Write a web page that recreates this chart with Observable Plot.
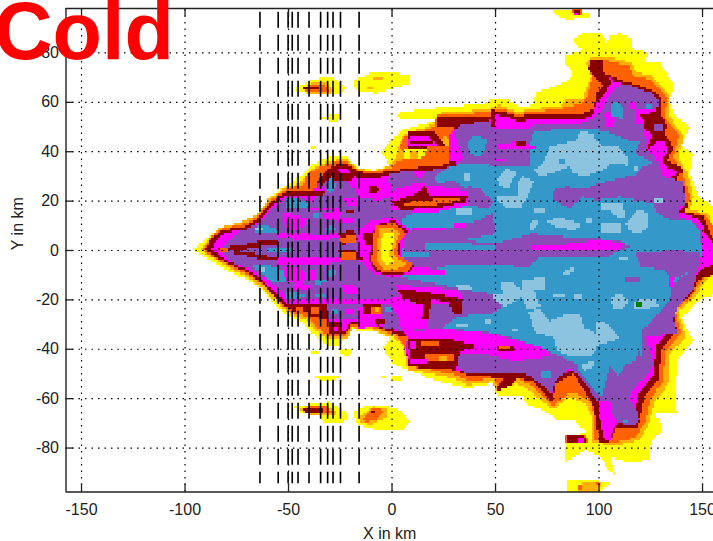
<!DOCTYPE html>
<html><head><meta charset="utf-8">
<style>html,body{margin:0;padding:0;background:#fff;overflow:hidden}svg{display:block}</style>
<script src="https://cdn.jsdelivr.net/npm/d3@7"></script>
<script src="https://cdn.jsdelivr.net/npm/@observablehq/plot@0.6"></script>
</head><body><div id="chart"></div><script>
const xTicks=[-150,-100,-50,0,50,100,150];
const yTicks=[-80,-60,-40,-20,0,20,40,60,80];
const dashedX=[-63.8,-55,-50.2,-48.2,-45.4,-40.1,-34.5,-31.1,-28.5,-24.9,-15.9];
const palette={yellow:"#ffff00",amber:"#ffb000",orange:"#ff6000",dark:"#8b0000",magenta:"#ff00ff",purple:"#8b4cb8",blue:"#3498c8",pale:"#8cc3df",green:"#008000"};

const yellowShapes=[
[[-96.5,0],[-89.3,4.7],[-84.4,8],[-73.2,10.5],[-63.5,14.8],[-58.7,21.6],[-50.6,26.3],[-44.2,29.7],[-39.3,34.4],[-30.5,37.8],[-21.6,37.8],[-15.2,33],[-8.9,32.4],[-0.9,34.4],[-4.9,39.8],[0,44.5],[5.5,48.6],[13.6,50.6],[20.9,52.6],[3.9,53.3],[2.3,55.3],[17.6,57.3],[32.9,58.3],[44.2,59.4],[49,61],[55.5,61.4],[61.9,57.7],[68.4,58.7],[70,64.1],[78,66.1],[86.1,68.8],[87.7,72.2],[83.7,76.2],[84.5,78.9],[92.5,81],[86.9,85],[92.5,88],[100.6,88.4],[103.8,83.7],[105.4,87],[110.2,87.7],[115.9,85.7],[116.7,81],[123.9,80.3],[123.1,76.2],[129.5,75.6],[136.8,66.1],[133.6,60.7],[136.8,54.6],[144,49.9],[140,41.8],[145.7,39.1],[144,31],[148.9,21.6],[156,17.5],[156,-18.2],[148.9,-20.2],[140,-27.7],[145.7,-36.4],[138.4,-44.5],[136.8,-56.7],[137.6,-66.1],[127.9,-66.1],[130.4,-72.9],[124.7,-79.6],[124.7,-85],[115,-86.4],[105.4,-83.7],[107.8,-91.1],[104.6,-89.1],[100.6,-83.7],[94.1,-81],[84.5,-85.7],[84.5,-76.2],[94.1,-73.5],[87.7,-68.8],[79.6,-68.8],[73.2,-64.8],[65.1,-62.1],[63.5,-58.7],[50.6,-58.7],[49,-54],[37,-56],[26.5,-54],[17.6,-52],[6.4,-47.9],[0.7,-45.9],[-2.5,-41.8],[-4.1,-39.1],[-0.1,-35.8],[-9,-33],[-18.6,-32.4],[-24.8,-38.5],[-29.7,-39],[-36.1,-35.8],[-43.4,-29],[-50.6,-26.3],[-55.4,-22.9],[-61.9,-16.2],[-69.9,-12.1],[-79.6,-8.1],[-87.7,-4],[-94.1,-0.7]],
[[-47.4,65],[-39.3,68.8],[-30.4,70.4],[-25,68.2],[-22.4,65.4],[-25,62.7],[-39.3,62.7],[-44,64]],
[[-17.8,68.8],[-10.5,71.5],[-1.7,72.2],[8.8,70.8],[8.8,67.5],[0.7,65.4],[-7.3,63.4],[-15.4,64],[-17.8,66.8]],
[[-35,54],[-30,54],[-30,53],[-35,53]],[[-30,55],[-25,55],[-25,53.5],[-26,52],[-30,52]],[[-38.5,42.5],[-37,42.5],[-37,41.5],[-38.5,41.5]],
[[77.5,97.2],[89.3,97.4],[92.5,96.5],[96.5,96],[96,94.5],[92,94.5],[86,92.8],[79.6,95]],
[[-38.5,-41],[-35,-41],[-35,-42],[-38.5,-42]],[[-25,-40.2],[-19,-40.2],[-19,-42],[-21.5,-43],[-25,-42]],[[-38.5,-46.5],[-37,-48],[-38,-48.5],[-38.7,-47]],[[-37,-51],[-25,-51],[-25,-52],[-29,-53],[-33,-53],[-37,-52]],
[[-47.4,-63.4],[-30.5,-61.4],[-20.8,-66.1],[-21.5,-68.8],[-24.8,-70.2],[-32.8,-70.2],[-34.5,-66.8],[-43.4,-66.1],[-45.8,-64]],
[[-18.6,-66],[-13.8,-63.4],[-4.1,-62.8],[3.9,-64.8],[8.8,-69.5],[5.5,-72.9],[-7.3,-72.9],[-16.2,-70.9]],
[[-5,-51],[-2.5,-51],[-2.5,-52],[-5,-52]],[[0,-51],[5.5,-51],[5.5,-53],[0,-53]],
[[85.3,-93.4],[92,-93.4],[99,-93.4],[105,-94],[104,-95.5],[100,-97.9],[85,-97.9]]
];
const amberShapes=[
[[-92,0],[-87,6],[-83,9],[-72,11.5],[-64,15],[-59.5,20.5],[-51,25.5],[-44,27],[-40,32],[-31,36],[-22,37],[-16,33],[-9,32],[-1,34],[1,36],[6,47],[16,49.5],[21,52],[22,55.4],[34.5,56],[47.4,57.3],[52,58.7],[61,56],[68,57.3],[81,58],[84,60.7],[92.5,61.4],[94,65.4],[98,72],[94,76],[97.3,78.3],[103.8,78.3],[110,77],[116,76],[118,72],[126,70.8],[134,62],[133.6,54.6],[141.6,45.8],[138.4,37.8],[143,31],[145.7,21.6],[144,16],[153,15],[156,8],[156,-10],[152,-12],[147,-19],[138.4,-25],[142.4,-35],[133.6,-43],[133.6,-54],[127,-62],[124.7,-70],[120,-77],[107,-79.6],[97.3,-77.6],[97.3,-68.8],[94,-62],[86,-59.4],[78,-64.8],[73,-61.4],[66.7,-56.7],[60.3,-54],[50,-57],[49,-53.3],[37,-54.7],[29.7,-52],[18.4,-50],[8,-48.6],[5.5,-39],[1.5,-35.8],[-9,-32.4],[-18.6,-31.4],[-21.5,-36.4],[-30.4,-36.4],[-36,-33],[-41.6,-28.3],[-49,-25.6],[-54.5,-22.3],[-61.8,-15.5],[-70.6,-10.8],[-79.5,-6.7],[-86.7,-3.4]],
[[-43,65.5],[-38,68],[-31,68],[-28,65],[-29,63],[-40,63]],
[[-9,70.4],[-4,70.4],[-4,69],[-9,69]],[[-12,66.4],[-9,66.4],[-9,65.4],[-12,65.4]],
[[-44,-63.8],[-37,-62.5],[-31,-62.5],[-26,-66],[-28,-67],[-33,-67.5],[-43,-66]],
[[-15.4,-67.5],[-9,-63.4],[-2.5,-64],[-1.7,-67.5],[-10.5,-70.9],[-14.6,-69.5]],
[[92,-94.5],[98,-93.8],[101,-94],[100,-97.5],[90,-97.5]]
];
const orangeShapes=[
[[-91,0],[-86,6.5],[-82,8.5],[-71.5,10.5],[-64,14],[-59,20],[-50.5,25],[-43,26],[-41,31],[-31,35],[-22,36.5],[-16,32.5],[-9,31.5],[-1,33],[3,36],[8,37],[4,42],[6,46],[15,48],[21,50.5],[22,54.5],[34,55],[47,56],[52,57.5],[61,55],[68,56],[81,57],[85,58],[92,59],[95,63],[97,70],[95,74],[97,77],[103,77],[110,75.5],[115,74.5],[117,70.5],[126,69],[133,61],[132,54],[139,46],[136,38],[141,31],[144,22],[142,15.5],[152,14],[156,10],[156,-10],[150,-12],[145,-19],[137,-24.5],[140,-34],[132,-42],[131,-53],[125,-61],[123,-69],[118,-76],[107,-78],[98.5,-76.5],[98.5,-68],[96,-61],[87,-57.5],[78,-63],[74,-60],[68,-55],[61,-52],[51,-55],[49.5,-52],[38,-53],[30,-50.5],[19,-48.5],[8.5,-47],[6,-38],[2,-34.5],[-9,-31.5],[-19,-30.5],[-22,-35],[-30,-35],[-35,-32],[-41,-27],[-49,-25],[-54,-21.5],[-61,-14.7],[-70,-10],[-79,-6],[-86,-3]],
[[-43,66],[-37,67],[-32,67],[-30,65],[-31,63.5],[-41,64]],
[[-43,-64],[-36,-63],[-31.5,-63.2],[-28,-65.5],[-33,-66.5],[-42,-65.5]],
[[-13.8,-68],[-9,-64],[-3.3,-64.8],[-7.3,-68.8],[-13,-70]],
[[87,97.9],[92.5,97.9],[92,95],[88,94.6]],
[[90.5,-95],[92,-95],[92,-97],[90.5,-97]],[[99,-93.5],[100.5,-93.5],[100.5,-95],[99,-95]],
[[84.5,-75],[94,-74.5],[95,-78],[84.5,-78.5]]
];
const coreShapes=[
{c:"yellow",p:[[6,41],[12,40.5],[17,41],[16,38],[12,37],[6,36.5]]},
{c:"amber",p:[[9,40],[13,39.5],[13,37.5],[9,37]]},
{c:"amber",p:[[24,45],[27,46],[29,44],[28,42],[24,42]]}
];
const darkShapes=[
[[-90,0.5],[-86,5.5],[-82,8],[-71,9.5],[-64,13],[-59,19],[-50.5,24],[-38,23.5],[-36,27],[-30,33],[-22,35],[-16,32],[-9,30.5],[-1,32],[13,33.5],[24,34],[34,37.5],[28,41],[30,50],[22,50.5],[22,54],[34,54],[48,54.5],[49,56.5],[54,56],[61,54],[68,55],[80,55],[92,55],[98,57],[99,63],[102,66],[100,69],[95,73],[97,76],[102,76],[102,72],[105.6,70.8],[113.6,68],[121.7,66],[128,64],[130.5,60],[129.7,55.3],[133,50.6],[132,47.2],[136.2,41.1],[133,36.4],[140.2,33.7],[141,31.7],[137,29],[141.8,25.6],[142.6,17.5],[141.8,15.5],[150.6,13.5],[152.3,10.8],[153.9,6.7],[156,4],[156,-10],[148,-12],[145,-18],[136,-24],[138,-33],[130,-41],[129,-52],[122,-60],[120,-67.5],[119,-72],[108.6,-72],[105.4,-77.6],[100.6,-78.3],[99,-70],[98,-63.4],[94,-58],[87.7,-50],[79.6,-54],[77.2,-62],[73.2,-58],[69,-53.3],[60.3,-52],[57,-55.3],[50.6,-57.4],[50.6,-56],[55,-52],[36,-50.6],[31.3,-48.6],[18.4,-48],[8,-47],[7,-39],[9.6,-35.8],[5,-35],[-2,-33],[-9,-30.5],[-19,-29.5],[-22,-33.7],[-29,-33.7],[-30,-28],[-39,-27],[-41,-23],[-49,-24],[-54,-21],[-61,-14],[-70,-9],[-79,-5.5],[-86,-2.5]],
[[-43,66.5],[-35,66.5],[-35,65],[-43,65]],
[[-43,-64.3],[-33,-64.3],[-33,-66],[-36,-66.3],[-42,-65.5]],
[[-9.5,-64.6],[-7.5,-64.6],[-7.5,-66],[-9.5,-66]],
[[85.5,-75.5],[93,-75],[94,-77.5],[93,-78],[85.5,-78]],
[[88,97.5],[91.5,97.5],[91,94.6],[88,94.6]]
];
const magentaMain=[
[[-87,0],[-84,5],[-80,7],[-70,8.5],[-63,12],[-57,18.5],[-50,22.5],[-38,21.5],[-34,26],[-28,30],[-20,33],[-16,29],[-9,29],[0,30],[13,32],[24,32],[34,35],[28,36],[28,47],[31,49],[47,52],[49,55],[55,54],[62,52],[68,53],[92,52.5],[98,55],[99,60],[103,63],[106.4,68.8],[113.6,66.8],[120,64.8],[127.3,62.7],[129,59.4],[127.3,56],[120,54.6],[120,52],[123.3,47.9],[126.5,47],[122.5,39],[128.9,44.5],[131.3,43.8],[133.7,41.1],[130.5,36.4],[132,33.7],[138.6,31.7],[134.5,29],[139.4,25.6],[141,17.5],[139.4,15.5],[149,12.1],[150.6,10.1],[151.5,6.7],[156,3],[156,-6],[150,-8],[146,-11],[143,-17],[134,-23],[136,-31],[128,-39],[127,-50],[121,-57],[119,-58],[118,-66],[117,-70],[109,-70],[106,-75],[103,-76],[100,-68],[100,-62],[96,-56],[90,-47],[80,-52],[77,-59],[75,-56],[70,-51],[60,-50],[36,-49],[8,-46],[7,-38],[9,-34],[3,-33],[-9,-29.5],[-19,-28.5],[-22,-32.5],[-29,-32.5],[-32,-26],[-39,-26],[-41,-21.5],[-50,-22],[-56,-17.5],[-63,-11.5],[-71,-7.5],[-80,-4],[-85,-1]],
[[90,-76],[92.5,-75.8],[93,-77.5],[90,-77.5]],
[[88.5,96.5],[90,96.5],[90,95],[88.5,95]]
];
const purpleMain=[[-82,0],[-78,4],[-73,7.5],[-64,11],[-58,16.5],[-50,21.5],[-38,20],[-36,24],[-32,27],[-28,30],[-22,29],[-18,25],[-10,22],[-3,24],[-1,31],[10,32],[14,29],[17,32],[30,34],[35,37],[32,43],[31,48],[33,51],[47,52],[49,49],[66,49],[69,50.6],[91,51],[99,54],[104.8,62],[108,66],[112.8,67.5],[119.2,65.4],[126.5,63.4],[129,60],[128,56.7],[121.7,57.3],[120,53.3],[122.5,50],[122,47],[121.5,47],[124,44.5],[123,40.5],[128,37.8],[129.7,32.4],[130.5,29],[136,25],[138.6,18.9],[139.4,13.5],[147.4,10.8],[150.5,6.7],[149,-1.4],[148,-6.7],[145.7,-16],[138.4,-23],[136,-28],[138.4,-33.7],[125.5,-35],[123,-35],[127,-46.6],[123,-51.3],[116.7,-56.7],[115,-60],[118.3,-64.8],[120,-68.8],[116.7,-71.5],[110,-70.2],[106,-66],[105.4,-60.7],[99,-60.7],[95.7,-56.7],[91,-51.3],[86,-48],[79.6,-52.6],[77.2,-58],[71.6,-54],[66.7,-50.6],[58.7,-50],[36,-50],[32,-47.2],[31.3,-41.2],[31,-33],[10,-33],[-4,-32],[-5,-23],[-16,-22.5],[-16,-28],[-33,-28.5],[-34,-22.5],[-49,-20],[-52,-17.5],[-60,-12],[-67.5,-8],[-76,-5.4],[-81,-2]];
const blueMain=[[5,-11],[4,2],[5,13],[12,15],[28,17],[38,18],[38,24],[30,28],[22,27],[21,30],[30,34.4],[44,35],[52,33.7],[66.7,34.4],[66.7,41.8],[69,47.9],[78,48.6],[86,49.2],[95.9,49.2],[104,47.9],[113.6,44.5],[120,44.5],[117.6,39.1],[126.5,35.7],[120,33],[117.6,30.3],[110,29],[125,26],[128,15],[134.5,12.1],[144.2,12.1],[147.4,9.4],[149,6.7],[150,0],[149,-6],[136,-13.5],[134.4,-19.6],[128.7,-25.6],[121.5,-32.4],[121.5,-44.5],[113.4,-46],[110,-51],[100.6,-59.4],[91,-50],[89.3,-46],[74.8,-40.5],[62,-36.4],[49,-33.7],[24.9,-31.7],[29.7,-27.7],[47,-24],[49,-18],[30,-15]];
const blueSmall=[
[[37,44],[40,46],[46,45],[45,40],[42,38],[38,39]],
[[105.6,59.4],[110,59.8],[112,57],[112,53.3],[106,54]],[[122.5,59.4],[125.7,59.4],[125.7,57.3],[123,57.3]],
[[71.5,-48.6],[77,-49],[77,-52],[72,-52]],[[113,-68],[115,-70],[112,-70]],
[[-65,10],[-60,10],[-54.6,8],[-54.6,6.8],[-66,6.8]],[[-50.6,21],[-45,20.5],[-40,19],[-41,17.5],[-50.6,17]],
[[-38.5,15],[-35,15.5],[-34.5,13],[-37,12.5]],[[-32,9],[-28,10],[-27,8],[-31,7.4]],[[-31,28],[-28,29],[-27,25],[-29,23],[-31,25]],
[[-68,-6],[-60,-6],[-50.6,-9],[-50.6,-13],[-55,-13.5],[-60,-11.5]],[[-51.4,-17.5],[-46,-17],[-41.8,-18.5],[-44,-19.5],[-51.4,-19.5]],
[[-37,-12],[-33,-11.5],[-31.3,-12.5],[-34,-13.5],[-37,-13.5]],[[-31.3,-8],[-28,-7.4],[-26.5,-9.5],[-29,-11.5],[-31,-10.5]],[[-37,-18],[-33,-17.5],[-32,-18.5],[-36,-19]],
[[-29,-24],[-26,-24],[-26,-25.6],[-29,-25.6]],[[-3,-23],[0,-23],[0,-24.5],[-3,-24.5]],
[[-60,1],[-47,1],[-47,-0.5],[-60,-0.5]]
];
const purplePatches=[
[[78,24.3],[84.5,25.6],[94,25],[100.7,27],[110,29],[118,30],[130,30],[141,27.6],[142,17.5],[127.3,18.9],[110,21.6],[99,20.2],[92.5,21.6],[86,17],[78,20.2]],
[[37,26],[42,25],[49,20],[47,17],[38,18]],
[[5.5,8],[26.5,8.8],[37.8,10.8],[49,14.8],[50,6.7],[34.5,4],[17,4],[5.5,4]],
[[2,4],[17,4],[34.5,4],[50.6,2.7],[68,6.7],[84.5,5.4],[110,4],[115,1.3],[104,-2.7],[72,-3],[66,-7],[52,-6],[30,-5.5],[20,-8],[8,-8],[2,-8]],
[[118,-1.4],[136,0],[149,-1.4],[149,-6.7],[136,-12],[131,-8],[120,-6.7]],
[[2.3,-11.5],[29.7,-15.5],[37.7,-17.5],[49,-18],[54,-23],[49,-25.6],[29.7,-27],[24.9,-31],[10.4,-32.4],[2.3,-24.3]],
[[105.4,-46.6],[110.2,-51.3],[115.9,-47.2],[119.9,-40.5],[121.5,-47],[116.7,-56.7],[111.8,-60],[101.4,-59.4],[103.8,-52.6]],
[[113,-11],[120,-11],[120,-13],[113,-13]]
];
const blueStripes=[
[[16,3.5],[50,2],[50,0],[16,0.5]],[[3.5,3],[6,3],[6,-3],[3.5,-3]],[[4,-0.5],[18,-0.5],[18,-2.5],[4,-2.5]]
];
const paleShapes=[
[[69,32.4],[73,35],[76.4,41.8],[89.3,44.5],[90.9,48],[97.3,47.2],[100.6,42.5],[110.2,41.8],[114.2,37.8],[114.2,34.4],[105.4,35],[102.2,32.4],[94.1,29.7],[87.7,31],[86,33.7],[79.6,31.7],[72.4,29.7]],
[[51,29],[55.5,32.8],[60.3,31.7],[56.3,25],[53,25.6]],
[[61,27],[63.5,29.7],[69,27.6],[66,21.6],[62,16.9],[55.5,16.9],[51.4,20.2],[51.4,21.6],[61,21.6]],
[[35.5,31.5],[38,31.5],[38,28.5],[35.5,28.5]],[[69,17],[74,17],[74,14.8],[69,14.8]],[[31,16.5],[39,17],[39,14.5],[31,14.5]],
[[66,7.4],[68.4,12.4],[71.6,12.1],[69.2,8.1]],
[[74.8,11.5],[80.4,13.5],[86,12],[92.5,10],[87.7,8],[79.6,9.4]],
[[93.3,13.5],[97,13.5],[97.3,11],[94,11.5]],
[[101.4,18.9],[111.8,18.9],[113.5,12.8],[108.6,13.5],[105.4,16.2],[101.4,16.2]],
[[100.6,11],[110.6,11],[110.8,6.7],[102,6.7],[100.6,8.8]],
[[113.4,10.8],[118.3,16.2],[123.9,15],[124.4,9.4],[119.9,6.7],[114.2,8]],
[[127,21.5],[131,21.5],[131,19.5],[127,19.5]],[[117.5,34.4],[120,34.4],[118,31.7],[117.5,31.7]],
[[49,-18],[54,-18],[53,-13],[58,-13],[63,-16],[63.5,-12],[74,-11],[74,-16],[69,-16],[72,-23],[66,-24.5],[63,-19],[55,-23],[49,-20]],
[[66,-25],[72,-24],[76,-29],[84.5,-26],[91,-26],[93,-31.5],[99,-33.7],[99,-29],[104,-29.7],[110,-36],[100,-38.5],[97.3,-42.5],[86,-43],[80,-40.5],[78,-35],[70,-34]],
[[92,-46],[98,-45],[98,-47],[93,-49]],
[[106,-19],[111,-17.5],[114,-21],[112,-24],[107,-24]],
[[117,-21],[122,-20],[128,-20.5],[129,-23],[122,-24],[117,-24]],
[[82.8,-9.4],[88.5,-6.3],[88.5,-8],[84.5,-10.4]],
[[31,-13.5],[38,-14],[39,-16],[32,-15.5]],[[78,-17.5],[84.5,-17.5],[84.5,-19],[78,-19]],[[88,-18],[92,-18],[92,-20],[88,-20]],
[[45,-28.3],[48,-28.3],[48,-30],[45,-30]],[[31.3,-29.5],[37,-29.5],[37,-31],[31.3,-31]],[[58,-31.5],[61,-31.5],[61,-32.5],[58,-32.5]],[[110,-3],[114,-3],[114,-4],[110,-4]],
[[-66,9],[-62,9],[-62,8],[-66,8]],[[-64,-7],[-61,-7],[-61,-9],[-64,-9]]
];
const blueInPale=[[[81.2,37],[84.5,37],[84.5,35],[81.2,35]]];
const magentaPatches=[
[[-51.4,15.5],[-47,14],[-41,13],[-42,10],[-44,8],[-50,8.5],[-52,12]],[[-54.6,7],[-45,7.4],[-35,6],[-24,7],[-24,4.8],[-40,4],[-54.6,5]],
[[-40,17.5],[-32,17],[-24,17.5],[-24,16],[-33,15.5],[-40,16]],[[-33,15],[-24,16],[-25,12],[-30,11.5],[-33,13]],[[-25.6,12.8],[-18.4,12.8],[-18.4,11.5],[-25.6,11.5]],
[[-16,28.4],[-8,29],[0,27],[1,22],[-6,20.3],[-16,21],[-17,25]],[[-24,21.5],[-16,21],[-16,18],[-21,18.5]],[[-40,27.7],[-34,27],[-32,24.5],[-38,24]],[[-14,8],[-6,8.5],[0,7.5],[0,5.4],[-14,5.4]],
[[-54.6,-2.7],[-40,-3.2],[-24,-2.7],[-24,-5],[-35,-6],[-54.6,-5.5]],[[-52,-7.4],[-44,-7],[-41.8,-10],[-43,-14],[-49,-13],[-52,-10]],[[-46.6,-13.5],[-38.5,-13.5],[-38.5,-15.5],[-46.6,-15.5]],[[-40,-8],[-37,-8],[-37,-12],[-40,-12]],
[[-24,-14.2],[-18,-14.5],[-14.4,-16],[-15,-18.2],[-22,-18]],[[-50,-20],[-25,-20.5],[-10,-20],[8,-20.5],[8,-22],[-50,-22]],[[-21.6,-24.3],[-17.6,-24.3],[-17.6,-26.3],[-21.6,-26.3]],[[-16,-25.6],[-10,-25.6],[-6.3,-27],[-7,-31],[-16,-31.7],[-15,-28]],[[0,-19],[6,-18.5],[11,-20],[9,-26],[3,-27],[0,-23]],
[[2,-21],[16,-22],[17,-32],[5,-33]],
[[0,24],[12,27],[30,25],[37,24],[37,18],[20,15],[0,16]],
[[10.4,9.5],[26,9.5],[26,8],[10.4,8]],[[30,10.8],[36,10.8],[36,8.8],[30,8.8]],
[[68,2],[85,2.5],[100,4],[113,3],[110,0.5],[90,0],[68,0.5]],
[[10,-7],[26,-8],[26,-10],[10,-10]],
[[50.6,42.5],[62,44],[70,41.5],[50.6,41]],[[50,37],[55,37],[55,36],[50,36]],
[[115.2,60],[117.6,60],[117.6,56.7],[115.2,56.7]],[[118.4,56.7],[121.7,56.7],[121.7,50.6],[118.4,50.6]],[[102.3,55.3],[105,56],[108,53],[107,50],[103,50]],
[[7,-33],[25,-32],[49,-34],[62,-37],[74,-40],[76,-43],[60,-45],[45,-42],[33,-42],[30,-38],[8,-37]],
[[2,-14],[32,-16],[35,-19],[34,-22],[5,-21]],
[[-16,8],[-10,12],[1,13],[10,8],[6,4],[5,-2],[5,-4],[11,-6],[10,-10],[0,-11],[-9,-9.5],[-14,-6],[-16,-2]],
[[101.4,-70],[106,-70.5],[106,-77],[103,-77],[101.4,-73]],
[[133.6,-11],[136,-11],[136,-15],[133.6,-15]]
];
const darkPatches=[
[[-84,1],[-72,2],[-60,4.5],[-55,4],[-55,2.5],[-70,0.5],[-84,-0.5]],
[[-76,0],[-60,-2.5],[-55,-3],[-55,-4.5],[-62,-4],[-76,-1.5]],
[[-29,34],[-22,35.5],[-17,32],[-19,28],[-28,28]],
[[-24,31],[-19,31],[-19,28],[-24,28]],
[[-51,24],[-40,23.5],[-32,24],[-33,22],[-44,22.5],[-51,22]],
[[-11,26],[-7,26],[-5,24],[-8,23],[-11,23.5]],
[[-22.4,16.5],[-17.6,16.5],[-17.6,15.5],[-22.4,15.5]],
[[8,48],[20,48],[26.5,42],[8,41]],
[[0,19.5],[12.8,23],[16,26],[17.6,22.3],[28,21.6],[37,22.3],[36,19.5],[21.7,17],[4.7,16.2]],
[[-10,7],[-6,10.5],[1,12],[8.5,7.5],[4.5,4],[4,-2],[5,-3],[11.5,-6],[9,-9],[0,-10.5],[-8,-9],[-11,-4],[-10,1]],
[[-14.4,6.8],[-9,7.5],[-7,2],[-13,2]],[[-26,7],[-18,8],[-16,4],[-24,2]],[[-26,-0.5],[-17,0],[-14,-4],[-22,-4.5]],
[[8,-35.8],[12,-35.8],[26.5,-35.8],[42.6,-39],[33,-41],[31.3,-48],[8,-47],[8.8,-43]],
[[50.6,-38.5],[59.5,-38.5],[59.5,-41],[50.6,-41]],
[[2.3,-15.5],[10.4,-16.2],[29.7,-19],[34.5,-20],[33.7,-25.6],[29.7,-25.6],[27.3,-21],[19.2,-20],[17.6,-28.3],[14.4,-27.7],[15.2,-22.3],[5.5,-19.6]],
[[-14.4,-22],[-5,-22],[-5,-25.6],[-14.4,-25.6]],[[-8,-28],[-3,-28],[-3,-30],[-8,-30]],
[[-40,-22],[-30.5,-22],[-30.5,-27.7],[-40,-27]],[[-50,-22.3],[-40,-22.3],[-40,-25],[-48,-25]],
[[60.4,44.5],[65,44.5],[65,42.5],[60.4,42.5]],
[[48,57],[50,57],[50,50],[48,50]],
[[95.7,76.9],[102,76.9],[102,73],[97,73]],
[[120,54.6],[127.3,56],[129.7,55.3],[133,50.6],[132,47.2],[126.5,46.5],[125,49],[122,52]],
[[-30,-29],[-24,-29],[-24,-33.7],[-30,-33.7]]
];
const topFixes=[
{c:"purple",p:[[126.5,50.6],[131.3,50.6],[131.3,47.6],[127,47.6]]},
{c:"magenta",p:[[-26,33],[-22,33.5],[-19,31],[-25,30.5]]},
{c:"magenta",p:[[9,46.5],[17.6,46],[21.7,42.5],[8,42.5]]},
{c:"dark",p:[[9,44.5],[20,44.5],[20,43.5],[9,43.5]]},
{c:"orange",p:[[5.5,19],[13.6,20.2],[29.7,21],[34.5,20.2],[20,18.2],[7,17.5]]},
{c:"orange",p:[[-8,9.5],[1,11],[7,7],[3.5,3],[3,-1],[5,-3],[10.5,-6],[8,-8.5],[0,-9.5],[-7,-8],[-10,-4],[-9,0],[-9,5]]},
{c:"amber",p:[[-6,8.5],[0,9.5],[4,6.5],[2,3],[1,-1],[4,-4],[8,-6],[3,-7.5],[-4,-7.5],[-7,-4],[-7,1]]},
{c:"yellow",p:[[-4,7],[0,7.5],[1.5,5],[0,2],[-1,-3],[2,-5],[-3,-6],[-5,-3],[-5,2]]},
{c:"orange",p:[[-25,5],[-17,6.5],[-17,3.5],[-25,3]]},
{c:"orange",p:[[-25,-1.5],[-17,-1],[-17,-3.5],[-25,-3.5]]},
{c:"orange",p:[[14,-37],[23,-37],[23,-39],[14,-39]]},
{c:"orange",p:[[16,-42],[30,-42],[30,-45],[16,-45]]},
{c:"amber",p:[[23,-43],[27,-43],[27,-45],[23,-45]]},
{c:"magenta",p:[[9,-37],[12,-37],[12,-40],[9,-40]]},
{c:"magenta",p:[[9,-43.5],[17,-43.5],[17,-46],[9,-46]]},
{c:"orange",p:[[52,-39.3],[57,-39.3],[57,-40.3],[52,-40.3]]},
{c:"orange",p:[[-10,-22.5],[-5,-22.5],[-5,-25.6],[-10,-25.6]]},
{c:"amber",p:[[-7.5,-23],[-5.5,-23],[-5.5,-25],[-7.5,-25]]},
{c:"orange",p:[[-38.5,-23],[-35,-23],[-35,-26],[-38.5,-26]]},
{c:"orange",p:[[-46,-23],[-43,-23],[-43,-25],[-46,-25]]},
{c:"magenta",p:[[-28,-30.5],[-25.5,-30.5],[-25.5,-32.5],[-28,-32.5]]},
{c:"orange",p:[[-83,0.7],[-79,0.7],[-79,-0.7],[-83,-0.7]]},
{c:"orange",p:[[-40,31],[-36,31],[-36,25],[-40,25]]},
{c:"magenta",p:[[104.6,70.5],[106,70.5],[106,69],[104.6,69]]},
{c:"green",p:[[118.1,-21],[121.5,-21],[121.5,-23],[118.1,-23]]}
];
const layers=[
...yellowShapes.map(p=>({c:"yellow",p})),...amberShapes.map(p=>({c:"amber",p})),...orangeShapes.map(p=>({c:"orange",p})),...coreShapes,
...darkShapes.map(p=>({c:"dark",p})),...magentaMain.map(p=>({c:"magenta",p})),{c:"purple",p:purpleMain},{c:"blue",p:blueMain},
...blueSmall.map(p=>({c:"blue",p})),...purplePatches.map(p=>({c:"purple",p})),...blueStripes.map(p=>({c:"blue",p})),...paleShapes.map(p=>({c:"pale",p})),...blueInPale.map(p=>({c:"blue",p})),
...magentaPatches.map(p=>({c:"magenta",p})),...darkPatches.map(p=>({c:"dark",p})),...topFixes
];
// The field is a 1 km pcolor-style grid: each column of cells takes the colour of the last digitised region holding its centre.
const cells=[];
const bounds=layers.map(l=>{const xs=l.p.map(d=>d[0]),ys=l.p.map(d=>d[1]);return [d3.min(xs),d3.max(xs),d3.min(ys),d3.max(ys)];});
for(let x=-100;x<156;x++){
  let run=null;
  for(let y=-98;y<98;y++){
    const cx=x+.5,cy=y+.5;let c=null;
    for(let i=layers.length-1;i>=0;i--){
      const b=bounds[i];
      if(cx<b[0]||cx>b[1]||cy<b[2]||cy>b[3])continue;
      if(d3.polygonContains(layers[i].p,[cx,cy])){c=layers[i].c;break;}
    }
    if(run&&run.c===c){run.y2=y+1;}
    else{
      run=c?{c,x1:x,x2:x+1,y1:y,y2:y+1,fill:palette[c]}:null;
      if(run)cells.push(run);
    }
  }
}
const xDomain=[-157.5,155.3],yDomain=[-97.8,98];
const font="Liberation Sans, Arial, sans-serif";
const ink="#222";
const plot=Plot.plot({
  width:713,height:541,marginLeft:65.5,marginRight:0,marginTop:8,marginBottom:49.5,
  style:{background:"#fff",fontFamily:font,overflow:"hidden"},
  x:{domain:xDomain,label:null},y:{domain:yDomain,label:null},
  marks:[
    Plot.rect(cells,{x1:"x1",x2:"x2",y1:"y1",y2:"y2",fill:"fill",shapeRendering:"crispEdges"}),
    Plot.ruleX(xTicks,{stroke:"#000",strokeWidth:1.2,strokeDasharray:"1.5,5",y1:yDomain[0],y2:yDomain[1]}),
    Plot.ruleY(yTicks,{stroke:"#000",strokeWidth:1.2,strokeDasharray:"1.5,5",x1:xDomain[0],x2:xDomain[1]}),
    Plot.ruleX(dashedX,{stroke:"#000",strokeWidth:1.6,strokeDasharray:"16,7",y1:96.5,y2:-94.5}),
    Plot.ruleX(xTicks,{stroke:ink,strokeWidth:1.3,y1:yDomain[0],y2:yDomain[0]+3.2}),
    Plot.ruleX(xTicks,{stroke:ink,strokeWidth:1.3,y1:yDomain[1],y2:yDomain[1]-3.2}),
    Plot.ruleY(yTicks,{stroke:ink,strokeWidth:1.3,x1:xDomain[0],x2:xDomain[0]+3.8}),
    Plot.ruleY([yDomain[0],yDomain[1]],{stroke:ink,strokeWidth:1.4}),
    Plot.ruleX([xDomain[0]],{stroke:ink,strokeWidth:1.4}),
    Plot.axisX(xTicks,{anchor:"bottom",tickSize:0,tickPadding:12,fontSize:16,fill:ink,label:null,tickFormat:d=>String(d)}),
    Plot.axisY(yTicks,{anchor:"left",tickSize:0,tickPadding:7,fontSize:16,fill:ink,label:null,tickFormat:d=>String(d)}),
    Plot.text(["X in km"],{frameAnchor:"bottom",dy:47,fontSize:16,fill:ink}),
    Plot.text(["Y in km"],{frameAnchor:"left",dx:-48.5,rotate:-90,fontSize:16,fill:ink}),
    Plot.text(["Cold"],{frameAnchor:"top-left",dx:-72,dy:50,textAnchor:"start",lineAnchor:"bottom",fontSize:81,fontWeight:"bold",fill:"#ff0000",fontFamily:font})
  ]
});
document.getElementById("chart").append(plot);
</script></body></html>
